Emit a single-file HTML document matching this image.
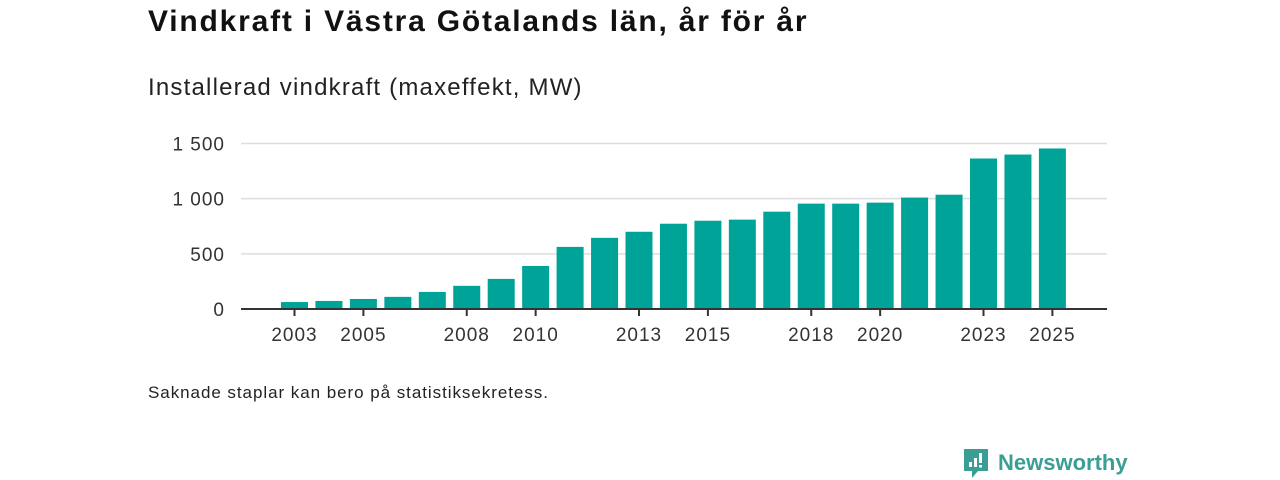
<!DOCTYPE html>
<html><head><meta charset="utf-8"><style>
body{margin:0;width:1280px;height:480px;background:#fff;font-family:"Liberation Sans",sans-serif;overflow:hidden;position:relative}
.t{position:absolute;left:148px;color:#111;white-space:nowrap}
</style></head><body>
<div class="t" style="top:5px;font-size:30px;font-weight:bold;letter-spacing:1.8px">Vindkraft i Västra Götalands län, år för år</div>
<div class="t" style="top:74px;font-size:24px;color:#222;letter-spacing:1.2px">Installerad vindkraft (maxeffekt, MW)</div>
<svg id="c" width="1280" height="480" style="position:absolute;left:0;top:0"></svg>
<div class="t" style="top:383px;font-size:17px;color:#222;letter-spacing:0.95px">Saknade staplar kan bero på statistiksekretess.</div>
<div style="position:absolute;left:962px;top:447px;display:flex;align-items:center">
<svg width="28" height="32" viewBox="0 0 28 32"><path d="M2 2h24v22H16l-6 7v-7H2z" fill="#3a9e95"/><rect x="7" y="15" width="3" height="5" fill="#fff"/><rect x="12" y="11" width="3" height="9" fill="#fff"/><rect x="17" y="6" width="3" height="10" fill="#fff"/><rect x="17" y="18" width="3" height="2.5" fill="#fff"/></svg>
<span style="font-size:22px;font-weight:bold;color:#3a9e95;margin-left:8px">Newsworthy</span></div>
<script>
const years=[2003,2004,2005,2006,2007,2008,2009,2010,2011,2012,2013,2014,2015,2016,2017,2018,2019,2020,2021,2022,2023,2024,2025];
const values=[63,73,91,110,155,210,273,390,563,645,700,773,800,810,882,955,955,964,1010,1036,1364,1400,1455];
const yTicks=[0,500,1000,1500];
const yTickLabels=["0","500","1 000","1 500"];
const xLabelYears=[2003,2005,2008,2010,2013,2015,2018,2020,2023,2025];
const svg=document.getElementById('c');const NS='http://www.w3.org/2000/svg';
const y0=309,pxPer=165.5/1500,x0=294.5,step=34.45,bw=27;
const y=v=>y0-v*pxPer, x=yr=>x0+(yr-2003)*step;
function el(t,a){const e=document.createElementNS(NS,t);for(const k in a)e.setAttribute(k,a[k]);svg.appendChild(e);return e;}
yTicks.forEach((t,i)=>{
 if(t>0){const g=el('line',{x1:241,x2:1107,y1:y(t),y2:y(t),stroke:'#ddd','stroke-width':1.5});
 
 }
 const l=el('text',{x:225,y:y(t)+7,'text-anchor':'end','font-size':19,'letter-spacing':1,fill:'#333','font-family':'Liberation Sans, sans-serif'});
 
 
 l.textContent=yTickLabels[i];
});
years.forEach((yr,i)=>{
 const r=el('rect',{x:x(yr)-bw/2,y:y(values[i]),width:bw,height:values[i]*pxPer,fill:'#00a397'});
 
 
});
const ax=el('line',{x1:241,x2:1107,y1:y0,y2:y0,stroke:'#333','stroke-width':2});


xLabelYears.forEach(yr=>{
 const tk=el('line',{x1:x(yr),x2:x(yr),y1:y0,y2:y0+7,stroke:'#333','stroke-width':2});
 
 
 const l=el('text',{x:x(yr),y:341,'text-anchor':'middle','font-size':19,'letter-spacing':1,fill:'#333','font-family':'Liberation Sans, sans-serif'});
 
 
 l.textContent=yr;
});
</script>
</body></html>
